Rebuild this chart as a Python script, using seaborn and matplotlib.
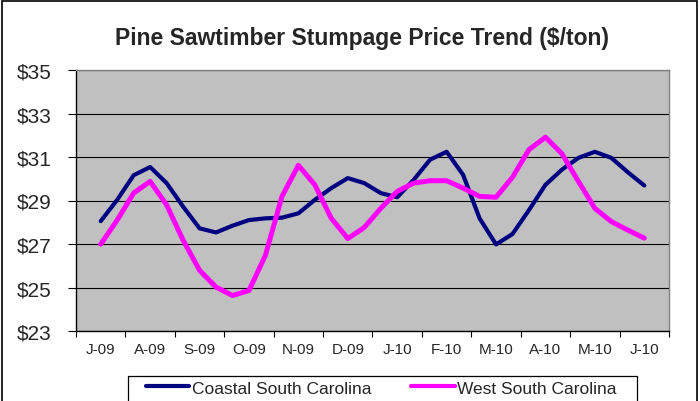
import numpy as np
import pandas as pd
import seaborn as sns
import matplotlib.pyplot as plt
from matplotlib.patches import Rectangle

# month labels on the category axis
months = ["J-09", "A-09", "S-09", "O-09", "N-09", "D-09",
          "J-10", "F-10", "M-10", "A-10", "M-10", "J-10"]

# prices, three readings per month ($/ton)
coastal = [28.05, 29.03, 30.16, 30.54, 29.80, 28.72, 27.72, 27.53, 27.84, 28.10,
           28.18, 28.21, 28.41, 29.03, 29.57, 30.03, 29.80, 29.34, 29.15, 29.95,
           30.88, 31.24, 30.18, 28.18, 26.98, 27.46, 28.56, 29.72, 30.42, 30.96,
           31.24, 30.96, 30.30, 29.69]
west = [26.99, 28.10, 29.34, 29.88, 28.80, 27.18, 25.79, 25.02, 24.63, 24.86,
        26.48, 29.18, 30.62, 29.72, 28.18, 27.25, 27.76, 28.64, 29.42, 29.80,
        29.91, 29.91, 29.57, 29.19, 29.15, 30.07, 31.34, 31.91, 31.15, 29.88,
        28.64, 28.03, 27.64, 27.27]
regions = ["Coastal South Carolina", "West South Carolina"]

t = np.arange(len(coastal)) / 3
df = pd.DataFrame({
    "t": np.concatenate([t, t]),
    "price": coastal + west,
    "region": [regions[0]] * len(coastal) + [regions[1]] * len(west),
})

sns.set_style("white")
plt.rcParams["font.family"] = ["Liberation Sans", "DejaVu Sans"]

fig = plt.figure(figsize=(7, 4.02), dpi=100)
ax = fig.add_axes([76 / 700, 1 - 332 / 402, 593 / 700, 261 / 402])
ax.set_facecolor("#C0C0C0")

colors = ["#000080", "#FF00FF"]
widths = [3.0, 3.6]
for name, col, lw in zip(regions, colors, widths):
    sns.lineplot(data=df[df["region"] == name], x="t", y="price", color=col,
                 linewidth=lw, label=name, ax=ax, solid_joinstyle="round",
                 solid_capstyle="round")

ax.set_ylim(23, 35)
ax.set_yticks(range(23, 36, 2))
ax.set_yticklabels([f"${v}" for v in range(23, 36, 2)])
ax.yaxis.grid(True, color="black", linewidth=0.8)
ax.set_axisbelow(True)

ax.set_xlim(-0.5, 11.5)
ax.set_xticks(np.arange(-0.5, 12, 1))
ax.set_xticklabels([])
ax.set_xticks(range(12), minor=True)
ax.set_xticklabels(months, minor=True)
ax.tick_params(axis="x", which="major", direction="out", length=4.5, width=0.8,
               color="black", bottom=True)
ax.tick_params(axis="x", which="minor", length=0, pad=8, labelsize=11)
ax.tick_params(axis="y", direction="out", length=5.5, width=0.8, color="black",
               left=True, pad=12, labelsize=15)
ax.set_xlabel("")
ax.set_ylabel("")

for side in ["top", "right"]:
    ax.spines[side].set_color("#808080")
    ax.spines[side].set_linewidth(1.0)
for side in ["left", "bottom"]:
    ax.spines[side].set_color("black")
    ax.spines[side].set_linewidth(1.0)

fig.text(362 / 700, 1 - 45 / 402, "Pine Sawtimber Stumpage Price Trend ($/ton)",
         ha="center", va="baseline", fontsize=16.5, fontweight="bold")

# legend, framed with its own box like the original
handles, labels = ax.get_legend_handles_labels()
ax.legend(handles, labels, loc="center left", ncol=2, frameon=False,
          bbox_to_anchor=(146 / 700, 1 - 389 / 402), bbox_transform=fig.transFigure,
          fontsize=12.5, handlelength=2.5, handletextpad=0.15, columnspacing=2.3,
          borderpad=0, borderaxespad=0)
for h in ax.get_legend().get_lines():
    h.set_linewidth(3.0)
fig.patches.append(Rectangle((128 / 700, -0.05), 509 / 700, 0.05 + (1 - 377 / 402),
                             transform=fig.transFigure, fill=False,
                             edgecolor="black", linewidth=0.9))

# outer chart border
fig.patches.append(Rectangle((2 / 700, -0.05), 695 / 700, 1.05 - 2 / 402,
                             transform=fig.transFigure, fill=False,
                             edgecolor="black", linewidth=1.2))

fig.savefig("out.png", dpi=100)
